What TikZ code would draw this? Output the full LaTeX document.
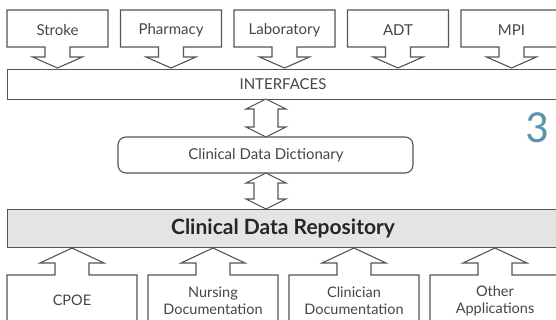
\documentclass[tikz,border=0pt]{standalone}
\usepackage{fontspec}
\setmainfont{Lato}
\newfontfamily\numfont{Carlito}
\definecolor{linegray}{RGB}{85,85,85}
\definecolor{txtgray}{RGB}{70,70,70}
\definecolor{barfill}{RGB}{228,228,228}
\definecolor{pageteal}{RGB}{92,148,170}
\begin{document}
\begin{tikzpicture}[x=1pt,y=-1pt,
  outline/.style={draw=linegray, line width=1.1pt, fill=white, line join=miter},
  lbl/.style={font=\fontsize{15}{17}\selectfont, text=txtgray, align=center, inner sep=0pt},
  bar/.style={draw=linegray, line width=1.2pt, minimum height=30pt, inner sep=0pt, anchor=north west}]
\useasboundingbox (0,0) rectangle (556,320);
\clip (0,0) rectangle (556,320);

% horizontal bars
\node[bar, minimum width=560pt, fill=white] (interfaces) at (7,69) {};
\node[lbl] (interfacestext) at (283,84) {INTERFACES};
\node[bar, minimum width=560pt, minimum height=38pt, fill=barfill, line width=1.4pt] (cdr) at (7,209) {};
\node[lbl, font=\fontsize{21}{24}\selectfont\bfseries, text=black!85] (cdrtext) at (283,228) {Clinical Data Repository};

% dictionary
\node[draw=linegray, line width=1.1pt, rounded corners=8pt, minimum width=295pt, minimum height=36pt, inner sep=0pt] (dict) at (265.5,155) {};
\node[lbl] (dicttext) at (266,155) {Clinical Data Dictionary};

% source systems feeding the interfaces (box merged with a down arrow)
\foreach \x/\t/\n in {7/Stroke/src1, 120.5/Pharmacy/src2, 234/Laboratory/src3, 347.5/ADT/src4, 461/MPI/src5}{
  \pgfmathsetmacro\cx{\x+50.5}
  \pgfmathsetmacro\xr{\x+101}
  \draw[outline] (\cx-12.5,47) -- (\x,47) -- (\x,10) -- (\xr,10) -- (\xr,47)
     -- (\cx+12.5,47) -- (\cx+12.5,57) -- (\cx+25,57) -- (\cx,68) -- (\cx-25,57)
     -- (\cx-12.5,57) -- cycle;
  \node[lbl] (\n) at (\cx,30) {\t};
}

% applications feeding the repository (box merged with an up arrow)
\foreach \x/\t/\n in {7/CPOE/app1, 148/{Nursing\\Documentation}/app2, 289/{Clinician\\Documentation}/app3, 430/{Other\\Applications}/app4}{
  \pgfmathsetmacro\cx{\x+65}
  \pgfmathsetmacro\xr{\x+130}
  \draw[outline] (\x,340) -- (\x,275) -- (\cx-17,275) -- (\cx-17,263) -- (\cx-32,263)
     -- (\cx,248) -- (\cx+32,263) -- (\cx+17,263) -- (\cx+17,275) -- (\xr,275) -- (\xr,340);
  \node[lbl, font=\fontsize{14.5}{17}\selectfont] (\n) at (\cx,300.5) {\t};
}

% two-way arrows between the layers
\foreach \top/\bot in {99/137, 173/209}{
  \pgfmathsetmacro\ha{\top+10}
  \pgfmathsetmacro\hb{\bot-10}
  \draw[outline] (266,\top) -- (286,\ha) -- (278,\ha) -- (278,\hb) -- (286,\hb) -- (266,\bot)
     -- (246,\hb) -- (254,\hb) -- (254,\ha) -- (246,\ha) -- cycle;
}

% page number
\node[font=\numfont\fontsize{46}{46}\selectfont, text=pageteal, inner sep=0pt] (pagenum) at (537,128) {3};
\end{tikzpicture}
\end{document}
